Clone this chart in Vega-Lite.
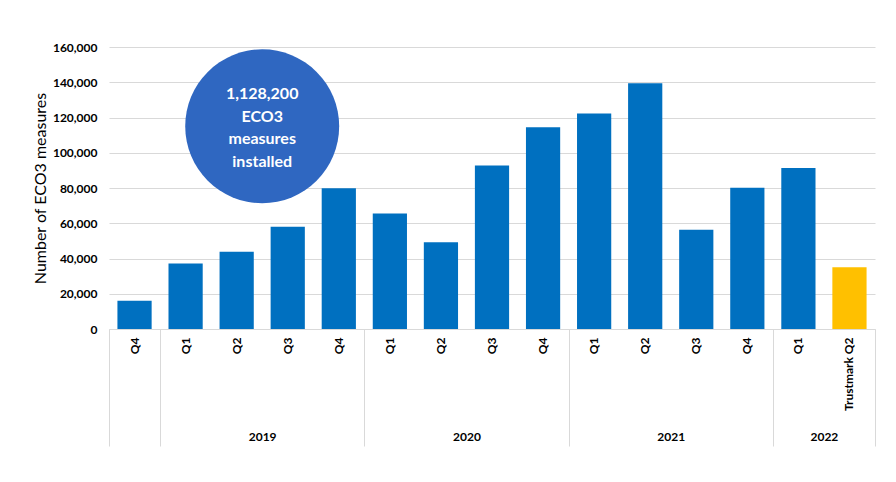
{
  "$schema": "https://vega.github.io/schema/vega-lite/v6.json",
  "width": 766,
  "height": 282,
  "autosize": "none",
  "padding": {"left": 109, "top": 47, "right": 21, "bottom": 153},
  "background": "#ffffff",
  "config": {
    "font": "Lato",
    "view": {"stroke": null},
    "axis": {"labelFont": "Lato", "titleFont": "Lato"},
    "axisY": {"labelOverlap": false}
  },
  "resolve": {"axis": {"x": "independent"}},
  "layer": [
    {
      "data": {
        "values": [
          {"period": "2018 Q4", "measures": 16000, "type": "ECO3"},
          {"period": "2019 Q1", "measures": 37200, "type": "ECO3"},
          {"period": "2019 Q2", "measures": 43900, "type": "ECO3"},
          {"period": "2019 Q3", "measures": 58000, "type": "ECO3"},
          {"period": "2019 Q4", "measures": 79800, "type": "ECO3"},
          {"period": "2020 Q1", "measures": 65500, "type": "ECO3"},
          {"period": "2020 Q2", "measures": 49200, "type": "ECO3"},
          {"period": "2020 Q3", "measures": 92800, "type": "ECO3"},
          {"period": "2020 Q4", "measures": 114500, "type": "ECO3"},
          {"period": "2021 Q1", "measures": 122200, "type": "ECO3"},
          {"period": "2021 Q2", "measures": 139400, "type": "ECO3"},
          {"period": "2021 Q3", "measures": 56300, "type": "ECO3"},
          {"period": "2021 Q4", "measures": 80100, "type": "ECO3"},
          {"period": "2022 Q1", "measures": 91300, "type": "ECO3"},
          {"period": "2022 Trustmark Q2", "measures": 35000, "type": "Trustmark"}
        ]
      },
      "mark": {"type": "bar", "width": {"band": 0.67}},
      "encoding": {
        "x": {
          "field": "period",
          "type": "ordinal",
          "sort": "ascending",
          "scale": {"paddingInner": 0, "paddingOuter": 0},
          "axis": {
            "orient": "bottom",
            "title": null,
            "domain": true,
            "domainColor": "#d9d9d9",
            "domainWidth": 1,
            "ticks": false,
            "grid": false,
            "labelAngle": 270,
            "labelAlign": "right",
            "labelBaseline": "middle",
            "labelPadding": 8,
            "labelFontSize": 12,
            "labelFontWeight": "bold",
            "labelColor": "#000000",
            "labelOverlap": false,
            "labelExpr": "substring(datum.label, 5)"
          }
        },
        "y": {
          "field": "measures",
          "type": "quantitative",
          "title": "Number of ECO3 measures",
          "scale": {"domain": [0, 160000], "nice": false},
          "axis": {
            "values": [0, 20000, 40000, 60000, 80000, 100000, 120000, 140000, 160000],
            "format": ",.0f",
            "domain": false,
            "ticks": false,
            "grid": true,
            "gridColor": "#d9d9d9",
            "gridWidth": 1,
            "labelFontSize": 12,
            "labelFontWeight": "bold",
            "labelColor": "#000000",
            "labelPadding": 12,
            "labelOverlap": false,
            "titleFontSize": 16,
            "titleFontWeight": "normal",
            "titleColor": "#000000",
            "titlePadding": 4
          }
        },
        "color": {
          "field": "type",
          "type": "nominal",
          "scale": {"domain": ["ECO3", "Trustmark"], "range": ["#0070C0", "#FFC000"]},
          "legend": null
        }
      }
    },
    {
      "data": {"values": [{"anchor": "2019 Q2", "level": 115000, "note": "1,128,200\nECO3\nmeasures\ninstalled"}]},
      "mark": {"type": "circle", "size": 23700, "color": "#2F67C1", "opacity": 1},
      "encoding": {
        "x": {
          "field": "anchor",
          "type": "ordinal",
          "bandPosition": 1,
          "axis": {
            "orient": "bottom",
            "title": null,
            "domain": false,
            "grid": false,
            "tickBand": "extent",
            "tickSize": 117,
            "tickColor": "#d9d9d9",
            "tickWidth": 1,
            "tickOpacity": {
              "condition": {
                "test": "datum.extra || indexof(['2018 Q4','2019 Q4','2020 Q4','2021 Q4','2022 Trustmark Q2'], datum.value) >= 0",
                "value": 1
              },
              "value": 0
            },
            "labelAngle": 0,
            "labelAlign": "center",
            "labelBaseline": "top",
            "labelPadding": -15,
            "labelOffset": 25.5,
            "labelFontSize": 12,
            "labelFontWeight": "bold",
            "labelColor": "#000000",
            "labelOverlap": false,
            "labelExpr": "indexof(['2019 Q2','2020 Q2','2021 Q2','2022 Q1'], datum.label) >= 0 ? substring(datum.label, 0, 4) : ''"
          }
        },
        "y": {
          "field": "level",
          "type": "quantitative",
          "title": "Number of ECO3 measures",
          "axis": {
            "values": [0, 20000, 40000, 60000, 80000, 100000, 120000, 140000, 160000],
            "format": ",.0f",
            "domain": false,
            "ticks": false,
            "grid": true,
            "gridColor": "#d9d9d9",
            "gridWidth": 1,
            "labelFontSize": 12,
            "labelFontWeight": "bold",
            "labelColor": "#000000",
            "labelPadding": 12,
            "labelOverlap": false,
            "titleFontSize": 16,
            "titleFontWeight": "normal",
            "titleColor": "#000000",
            "titlePadding": 4
          }
        }
      }
    },
    {
      "data": {"values": [{"anchor": "2019 Q2", "level": 115000, "note": "1,128,200\nECO3\nmeasures\ninstalled"}]},
      "mark": {
        "type": "text",
        "color": "#ffffff",
        "font": "Lato",
        "fontSize": 16,
        "fontWeight": "bold",
        "lineHeight": 22.5,
        "lineBreak": "\n",
        "align": "center",
        "baseline": "middle",
        "dy": -32
      },
      "encoding": {
        "x": {"field": "anchor", "type": "ordinal", "bandPosition": 1, "axis": null},
        "y": {
          "field": "level",
          "type": "quantitative",
          "title": "Number of ECO3 measures",
          "axis": {
            "values": [0, 20000, 40000, 60000, 80000, 100000, 120000, 140000, 160000],
            "format": ",.0f",
            "domain": false,
            "ticks": false,
            "grid": true,
            "gridColor": "#d9d9d9",
            "gridWidth": 1,
            "labelFontSize": 12,
            "labelFontWeight": "bold",
            "labelColor": "#000000",
            "labelPadding": 12,
            "labelOverlap": false,
            "titleFontSize": 16,
            "titleFontWeight": "normal",
            "titleColor": "#000000",
            "titlePadding": 4
          }
        },
        "text": {"field": "note", "type": "nominal"}
      }
    }
  ]
}
